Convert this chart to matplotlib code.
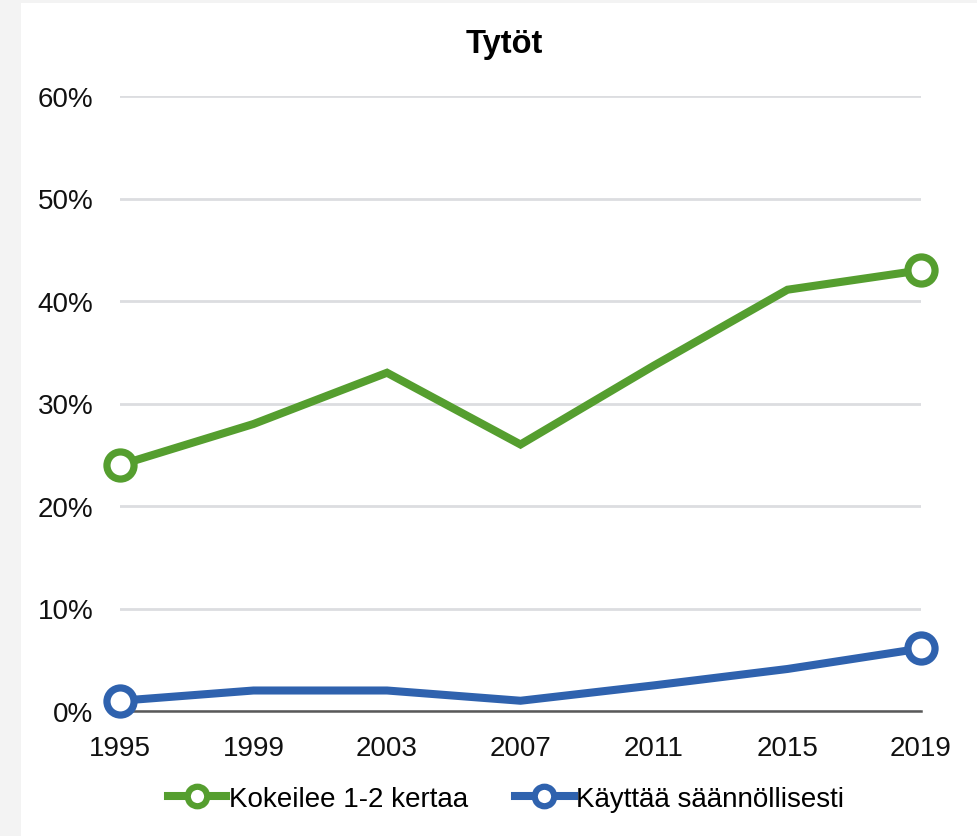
import matplotlib
matplotlib.use("Agg")
import matplotlib.pyplot as plt
from matplotlib.patches import Rectangle
from matplotlib.ticker import FuncFormatter

# data
years = [1995, 1999, 2003, 2007, 2011, 2015, 2019]
kokeilee = [24.0, 28.0, 33.0, 26.0, 33.7, 41.1, 43.0]
kayttaa = [1.0, 2.0, 2.0, 1.0, 2.5, 4.1, 6.1]
series_names = ["Kokeilee 1-2 kertaa", "Käyttää säännöllisesti"]
title = "Tytöt"

plt.rcParams['font.family'] = ['Liberation Sans', 'DejaVu Sans']

fig = plt.figure(figsize=(9.78, 8.37), dpi=100, facecolor="#f3f3f3")
# white card on the grey page
fig.patches.append(Rectangle((21 / 978, 0), 1, 1 - 4 / 837, transform=fig.transFigure,
                             facecolor="white", edgecolor="none", zorder=-5))

ax = fig.add_axes([120 / 978, 1 - 712 / 837, (921 - 120) / 978, (712 - 97) / 837])
ax.set_facecolor("none")

green = "#559e2f"
blue = "#2f62ae"
for vals, col, name in [(kokeilee, green, series_names[0]), (kayttaa, blue, series_names[1])]:
    ax.plot(years, vals, color=col, lw=5.8, marker="o", markevery=[0, len(vals) - 1],
            ms=19.5, mfc="white", mec=col, mew=5.2, label=name, clip_on=False, zorder=3,
            solid_joinstyle="miter")

ax.set_xlim(1995, 2019)
ax.set_ylim(0, 60)
ax.set_xticks(years)
ax.set_yticks(range(0, 61, 10))
ax.yaxis.set_major_formatter(FuncFormatter(lambda v, p: f"{v:.0f}%"))
ax.grid(axis="y", color="#dcdde0", lw=2)
ax.set_axisbelow(True)
for s in ["top", "right", "left"]:
    ax.spines[s].set_visible(False)
ax.spines["bottom"].set_color("#595959")
ax.spines["bottom"].set_linewidth(1.8)
ax.spines["bottom"].set_zorder(2)
ax.tick_params(axis="both", length=0, labelsize=20, colors="#111111")
ax.tick_params(axis="y", pad=19)
ax.tick_params(axis="x", pad=17)

fig.text(504 / 978, 1 - 45 / 837, title, fontsize=23.5, fontweight="bold",
         ha="center", va="center")

handles, labels = ax.get_legend_handles_labels()
leg = fig.legend(handles, labels, loc="center", bbox_to_anchor=(506 / 978, 1 - 800 / 837),
                 ncol=2, frameon=False, fontsize=20, handlelength=2.1,
                 handletextpad=0.1, columnspacing=1.7, markerscale=0.72)
for line in leg.get_lines():
    line.set_markeredgewidth(4.5)

fig.savefig("out.png", dpi=100, facecolor=fig.get_facecolor())
